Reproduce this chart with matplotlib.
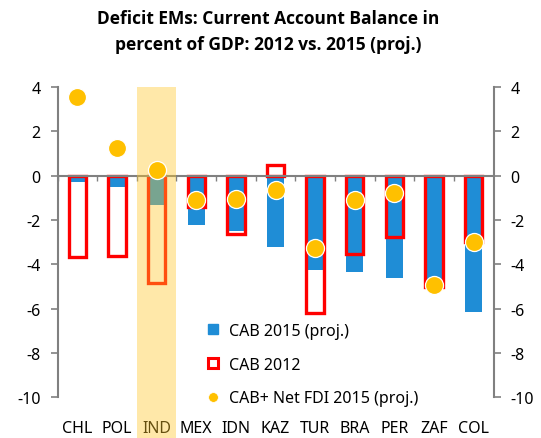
import matplotlib

matplotlib.use("Agg")
import matplotlib.pyplot as plt  # noqa: E402
import numpy as np  # noqa: E402
from matplotlib.lines import Line2D  # noqa: E402
from matplotlib.patches import Rectangle  # noqa: E402
from matplotlib.transforms import blended_transform_factory  # noqa: E402

# --- Data (percent of GDP) --------------------------------------------

COUNTRIES = ["CHL", "POL", "IND", "MEX", "IDN", "KAZ", "TUR", "BRA", "PER", "ZAF", "COL"]
CAB_2015 = [-0.3, -0.5, -1.3, -2.2, -2.5, -3.2, -4.25, -4.35, -4.6, -5.0, -6.15]
CAB_2012 = [-3.65, -3.6, -4.85, -1.4, -2.65, 0.5, -6.2, -3.55, -2.75, -5.0, -3.0]
CAB_FDI_2015 = [3.55, 1.25, 0.27, -1.1, -1.05, -0.65, -3.25, -1.1, -0.8, -4.95, -2.97]
HIGHLIGHT = "IND"

BLUE = "#1F8DD6"
RED = "#FF0000"
YELLOW = "#FFC000"
GRAY = "#808080"

plt.rcParams["font.family"] = ["Noto Sans", "DejaVu Sans"]
plt.rcParams["axes.unicode_minus"] = False

fig = plt.figure(figsize=(5.41, 4.39), dpi=100)
ax = fig.add_axes([0.1063, 0.0923, 0.8059, 0.7072])

x = np.arange(len(COUNTRIES))
ax.bar(x, CAB_2015, width=0.44, color=BLUE, zorder=2)
ax.bar(x, CAB_2012, width=0.44, fill=False, edgecolor=RED, linewidth=2.4, zorder=3)
ax.axhline(0, color=GRAY, linewidth=1.5, zorder=4)
ax.vlines(np.arange(len(COUNTRIES) + 1) - 0.5, -0.25, 0, color=GRAY, linewidth=1.0, zorder=4)
ax.plot(x, CAB_FDI_2015, linestyle="none", marker="o", markersize=13,
        markerfacecolor=YELLOW, markeredgecolor="white", markeredgewidth=0.9, zorder=6)

# highlighted column runs from the top of the plot down past the labels
hi = COUNTRIES.index(HIGHLIGHT)
trans = blended_transform_factory(ax.transData, ax.transAxes)
ax.add_patch(Rectangle((hi - 0.5, -0.14), 1.0, 1.14, transform=trans,
                       facecolor="#FFC729", alpha=0.4, linewidth=0,
                       clip_on=False, zorder=5))

ax.set_xlim(-0.5, len(COUNTRIES) - 0.5)
ax.set_ylim(-10, 4)
ax.set_yticks(np.arange(-10, 5, 2))
ax.set_xticks(x)
ax.set_xticklabels(COUNTRIES)

for side in ("top", "bottom"):
    ax.spines[side].set_visible(False)
for side in ("left", "right"):
    ax.spines[side].set_color(GRAY)
    ax.spines[side].set_linewidth(1.5)

ax.tick_params(axis="y", direction="out", length=5, width=1.2, color=GRAY,
               pad=7, labelsize=11.5, left=True, right=True,
               labelleft=True, labelright=True)
ax.tick_params(axis="x", length=0, pad=16, labelsize=11.5)

fig.text(0.495, 1 - 32 / 439,
         "Deficit EMs: Current Account Balance in\npercent of GDP: 2012 vs. 2015 (proj.)",
         ha="center", va="center", fontsize=12.5, fontweight="bold",
         family=["Open Sans", "DejaVu Sans"], linespacing=1.5)

handles = [
    Line2D([], [], linestyle="none", marker="s", markersize=7,
           markerfacecolor=BLUE, markeredgecolor=BLUE),
    Line2D([], [], linestyle="none", marker="s", markersize=7.5,
           markerfacecolor="white", markeredgecolor=RED, markeredgewidth=2.2),
    Line2D([], [], linestyle="none", marker="o", markersize=7,
           markerfacecolor=YELLOW, markeredgecolor="white", markeredgewidth=0.5),
]
labels = ["CAB 2015 (proj.)", "CAB 2012", "CAB+ Net FDI 2015 (proj.)"]
fig.legend(handles, labels, loc="upper left",
           bbox_to_anchor=(207 / 541, 1 - 324 / 439), frameon=False,
           fontsize=11.5, handlelength=0.8, handletextpad=0.55,
           labelspacing=1.1, borderpad=0, borderaxespad=0)

fig.savefig("out.png", dpi=100)
plt.close(fig)
